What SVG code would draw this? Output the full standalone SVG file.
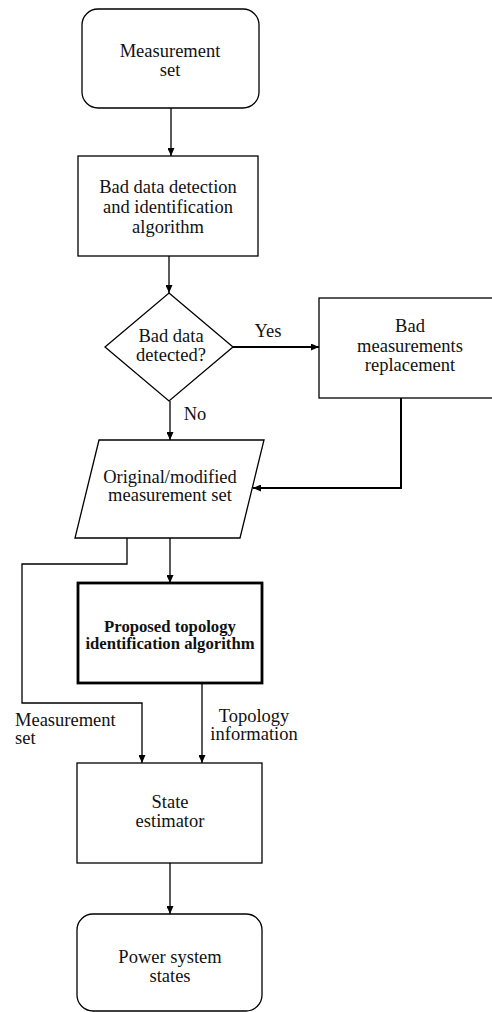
<svg xmlns="http://www.w3.org/2000/svg" width="492" height="1012" viewBox="0 0 492 1012">
<defs>
<marker id="arr" markerUnits="userSpaceOnUse" markerWidth="8" markerHeight="7" refX="8" refY="3.5" orient="auto">
<path d="M0,0 L8,3.5 L0,7 z" fill="#000"/>
</marker>
</defs>
<style>
.box{fill:#fff;stroke:#000;stroke-width:1.3}
.thick{fill:#fff;stroke:#000;stroke-width:2.8}
.ln{fill:none;stroke:#000;stroke-width:1.3}
.ln2{fill:none;stroke:#000;stroke-width:2}
text{font-family:"Liberation Serif","Times New Roman",serif;font-size:18.5px;fill:#111}
.c{text-anchor:middle}
.b{font-weight:bold;font-size:16.7px}
</style>
<rect width="492" height="1012" fill="#fff"/>
<g id="connectors">
<line class="ln" x1="171" y1="108" x2="171" y2="156" marker-end="url(#arr)"/>
<line class="ln" x1="169" y1="256" x2="169" y2="293" marker-end="url(#arr)"/>
<line class="ln2" x1="233" y1="347" x2="319" y2="347" marker-end="url(#arr)"/>
<line class="ln" x1="170" y1="401" x2="170" y2="440" marker-end="url(#arr)"/>
<polyline class="ln2" points="401,398 401,488 253,488" marker-end="url(#arr)"/>
<line class="ln" x1="170" y1="538" x2="170" y2="583" marker-end="url(#arr)"/>
<polyline class="ln" points="127,538 127,564 22,564 22,703 142,703 142,763" marker-end="url(#arr)"/>
<line class="ln" x1="202" y1="683" x2="202" y2="763" marker-end="url(#arr)"/>
<line class="ln" x1="170" y1="863" x2="170" y2="914" marker-end="url(#arr)"/>
<text class="c" x="268" y="337">Yes</text>
<text class="c" x="195" y="420">No</text>
<text x="15" y="726">Measurement</text>
<text x="15" y="744">set</text>
<text class="c" x="254" y="722">Topology</text>
<text class="c" x="254" y="740">information</text>
</g>
<g id="n-measurement-set">
<rect class="box" x="82" y="9" width="177" height="99" rx="16"/>
<text class="c" x="170" y="57">Measurement</text>
<text class="c" x="170" y="76">set</text>
</g>
<g id="n-bad-data-detection">
<rect class="box" x="78" y="156" width="180" height="100"/>
<text class="c" x="168" y="193">Bad data detection</text>
<text class="c" x="168" y="213">and identification</text>
<text class="c" x="168" y="233">algorithm</text>
</g>
<g id="n-decision">
<polygon class="box" points="169,293 233,347 169,401 105,347"/>
<text class="c" x="171" y="342">Bad data</text>
<text class="c" x="171" y="361">detected?</text>
</g>
<g id="n-replacement">
<rect class="box" x="319" y="298" width="182" height="100"/>
<text class="c" x="410" y="332">Bad</text>
<text class="c" x="410" y="352">measurements</text>
<text class="c" x="410" y="371">replacement</text>
</g>
<g id="n-original-modified">
<polygon class="box" points="99,440 264,440 240,538 75,538"/>
<text class="c" x="170" y="483">Original/modified</text>
<text class="c" x="170" y="501">measurement set</text>
</g>
<g id="n-proposed">
<rect class="thick" x="78" y="583" width="184" height="100"/>
<text class="c b" x="170" y="632">Proposed topology</text>
<text class="c b" x="170" y="649">identification algorithm</text>
</g>
<g id="n-state-estimator">
<rect class="box" x="77" y="763" width="185" height="100"/>
<text class="c" x="170" y="808">State</text>
<text class="c" x="170" y="827">estimator</text>
</g>
<g id="n-power-system-states">
<rect class="box" x="77" y="914" width="185" height="97" rx="16"/>
<text class="c" x="170" y="963">Power system</text>
<text class="c" x="170" y="982">states</text>
</g>
</svg>
